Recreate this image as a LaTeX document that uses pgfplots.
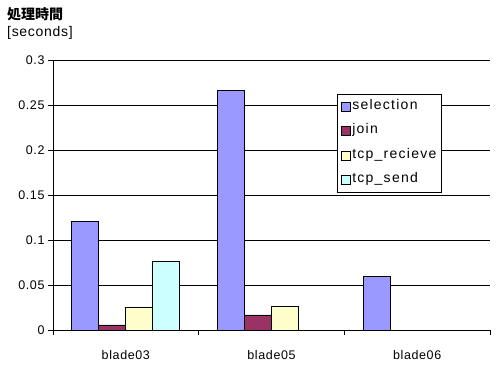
\documentclass[border=0pt]{standalone}
\usepackage{fontspec}
\setmainfont{Liberation Sans}[LetterSpace=5]
\newfontfamily\legfont{Liberation Sans}[LetterSpace=9]
\newfontfamily\jpfont{Noto Sans CJK JP}
\usepackage{pgfplots}
\pgfplotsset{compat=1.18}

\definecolor{cSel}{HTML}{9999FF}
\definecolor{cJoin}{HTML}{993366}
\definecolor{cRecv}{HTML}{FFFFCC}
\definecolor{cSend}{HTML}{CCFFFF}

\begin{document}
\begin{tikzpicture}[x=1bp,y=1bp]
\useasboundingbox (0,0) rectangle (496,365);
\node[anchor=west, inner sep=0pt, font=\jpfont\bfseries\fontsize{14bp}{16bp}\selectfont] at (7,351) {処理時間};
\node[anchor=west, inner sep=0pt, font=\fontsize{14bp}{16bp}\selectfont] at (7,332) {[seconds]};
\begin{axis}[
  at={(53bp,35bp)}, anchor=south west,
  scale only axis, width=437bp, height=270bp,
  xmin=-0.5, xmax=2.5, ymin=0, ymax=0.3,
  axis lines=left, axis line style={-, black, line width=0.8bp},
  tick align=inside, major tick length=5bp,
  tick style={black, line width=0.8bp},
  y tick style={xshift=-5bp},
  ytick={0,0.05,0.1,0.15,0.2,0.25,0.3},
  yticklabels={0,0.05,0.1,0.15,0.2,0.25,0.3},
  yticklabel style={xshift=-5bp},
  ymajorgrids, grid style={black, line width=0.8bp},
  xtick={-0.5,0.5,1.5,2.5}, x tick label as interval,
  xticklabels={blade03,blade05,blade06},
  xticklabel style={yshift=-12bp},
  ticklabel style={font=\fontsize{12.5bp}{14bp}\selectfont},
  ybar=0pt, bar width=27bp,
  every axis plot/.append style={draw=black, line width=0.8bp},
  legend image code/.code={\draw[#1] (0bp,-4.5bp) rectangle (9bp,4.5bp);},
  legend cell align=left,
  legend style={at={(rel axis cs:0.65,0.874)}, anchor=north west,
    draw=black, line width=0.8bp, fill=white,
    font=\legfont\fontsize{14bp}{16bp}\selectfont,
    row sep=8.5bp, inner sep=4bp,
    nodes={inner sep=1bp, text height=10bp, text depth=4bp}},
]
\addplot[fill=cSel] coordinates {(0,0.121) (1,0.266) (2,0.060)};
\addplot[fill=cJoin] coordinates {(0,0.0056) (1,0.0167)};
\addplot[fill=cRecv] coordinates {(0,0.0256) (1,0.0267)};
\addplot[fill=cSend] coordinates {(0,0.0767)};
\legend{selection,join,tcp\_recieve,tcp\_send}
\end{axis}
\end{tikzpicture}
\end{document}
